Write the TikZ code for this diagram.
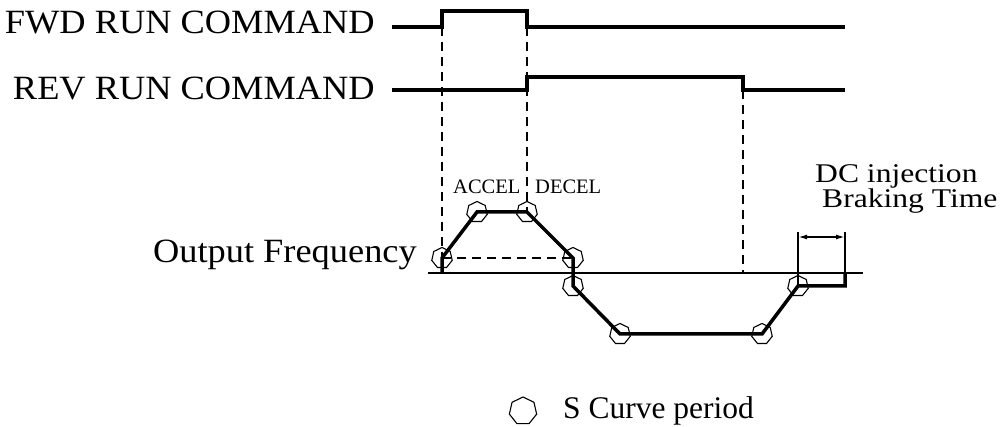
\documentclass[tikz,border=0pt]{standalone}
\usepackage{fontspec}
\setmainfont{Liberation Serif}
\newfontfamily\widefont[FakeStretch=1.07]{Liberation Serif}
\newfontfamily\widerfont[FakeStretch=1.17]{Liberation Serif}
\usetikzlibrary{arrows.meta,shapes.geometric}

\begin{document}
\begin{tikzpicture}[
    x=1pt, y=-1pt,
    signal/.style={line width=3.5pt, line join=miter},
    axisline/.style={line width=1.6pt},
    guide/.style={line width=1.3pt, dash pattern=on 9pt off 6pt},
    scurve/.style={regular polygon, regular polygon sides=7, draw, line width=1.1pt, minimum size=21pt, inner sep=0pt},
    biglbl/.style={font=\widefont\fontsize{34}{36}\selectfont, inner sep=0pt},
    midlbl/.style={font=\widerfont\fontsize{27}{22.5}\selectfont, inner sep=0pt, align=left},
    smalllbl/.style={font=\fontsize{20.5}{22}\selectfont, inner sep=0pt},
    leglbl/.style={font=\fontsize{31.5}{33}\selectfont, inner sep=0pt}
]
\useasboundingbox (0,0) rectangle (1006,427);

% run commands
\coordinate (f0) at (392,27);  \coordinate (f1) at (442,27);
\coordinate (f2) at (442,11);  \coordinate (f3) at (527,11);
\coordinate (f4) at (527,27);  \coordinate (f5) at (845,27);
\coordinate (r0) at (392,90);  \coordinate (r1) at (527,90);
\coordinate (r2) at (527,77);  \coordinate (r3) at (743,77);
\coordinate (r4) at (743,90);  \coordinate (r5) at (845,90);
\draw[signal] (f0) -- (f1) -- (f2) -- (f3) -- (f4) -- (f5);
\draw[signal] (r0) -- (r1) -- (r2) -- (r3) -- (r4) -- (r5);
\node[biglbl, anchor=base east] (fwd) at (375,34) {FWD RUN COMMAND};
\node[biglbl, anchor=base east] (rev) at (375,100) {REV RUN COMMAND};

% output frequency
\coordinate (a0) at (428,273); \coordinate (a1) at (863,273);
\coordinate (o0) at (442,273); \coordinate (c0) at (743,273);
\coordinate (s1) at (442,258); \coordinate (s2) at (477,212);
\coordinate (s3) at (527,212); \coordinate (s4) at (573,258);
\coordinate (s5) at (573,286); \coordinate (s6) at (620,334);
\coordinate (s7) at (762,334); \coordinate (s8) at (798,286);
\coordinate (o1) at (845,286); \coordinate (o2) at (845,273);
\draw[axisline] (a0) -- (a1);
\draw[guide] (f1) -- (o0);
\draw[guide] (f4) -- (s3);
\draw[guide] (r4) -- (c0);
\draw[guide] (s1) -- (s4);
\draw[signal] (o0) -- (s1) -- (s2) -- (s3) -- (s4) -- (s5) -- (s6) -- (s7) -- (s8) -- (o1) -- (o2);
\foreach \p in {s1,s2,s3,s4,s5,s6,s7,s8}
    \node[scurve] at (\p) {};
\node[biglbl, anchor=base east] (outf) at (417,263) {Output Frequency};
\node[smalllbl, anchor=base west] (accel) at (453,194) {ACCEL};
\node[smalllbl, anchor=base west] (decel) at (535,194) {DECEL};

% braking time
\coordinate (b0) at (798,232); \coordinate (b1) at (845,232);
\coordinate (d0) at (798,237); \coordinate (d1) at (845,237);
\draw[axisline] (b0) -- (s8);
\draw[axisline] (b1) -- (o1);
\draw[axisline, {Latex[length=9pt,width=5pt]}-{Latex[length=9pt,width=5pt]}] (d0) -- (d1);
\node[midlbl, anchor=north west] (brake) at (815,164) {DC injection\\\hspace*{7pt}Braking Time};

% legend
\node[scurve, minimum size=28pt] (leg) at (523,411) {};
\node[leglbl, anchor=west] (legtxt) at (563,411) {S Curve period};
\end{tikzpicture}
\end{document}
